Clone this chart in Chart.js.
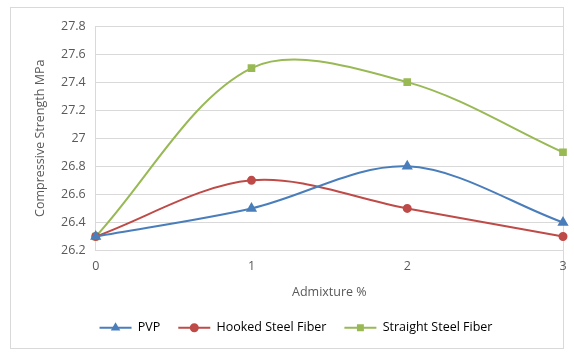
<!DOCTYPE html>
<html>
<head>
<meta charset="utf-8">
<script src="https://cdn.jsdelivr.net/npm/chart.js@4.4.1/dist/chart.umd.min.js"></script>
<style>
  html, body { margin: 0; padding: 0; background: #fff; }
  #wrap { position: relative; width: 574px; height: 353px; }
  #frame { position: absolute; left: 10px; top: 7px; width: 554px; height: 342px; border: 1px solid #d9d9d9; box-sizing: border-box; }
  canvas { position: absolute; left: 0; top: 0; }
</style>
</head>
<body>
<div id="wrap">
  <div id="frame"></div>
  <canvas id="myChart" width="574" height="353"></canvas>
</div>
<script>
var admixture = ['0', '1', '2', '3'];
var pvp = [26.3, 26.5, 26.8, 26.4];
var hookedSteel = [26.3, 26.7, 26.5, 26.3];
var straightSteel = [26.3, 27.5, 27.4, 26.9];

var textColor = '#595959';
var gridColor = '#d9d9d9';
Chart.defaults.font.family = "'Open Sans', 'Liberation Sans', sans-serif";
Chart.defaults.font.size = 12.5;
Chart.defaults.color = textColor;

const ctx = document.getElementById('myChart');

var myChart = new Chart(ctx, {
  type: 'line',
  data: {
    labels: admixture,
    datasets: [
      {
        label: 'PVP',
        data: pvp,
        borderColor: '#4a7ebb',
        backgroundColor: '#4a7ebb',
        pointStyle: 'triangle',
        pointRadius: 4.5,
        borderWidth: 2,
        tension: 0.33
      },
      {
        label: 'Hooked Steel Fiber',
        data: hookedSteel,
        borderColor: '#be4b48',
        backgroundColor: '#be4b48',
        pointStyle: 'circle',
        pointRadius: 3.5,
        borderWidth: 2,
        tension: 0.33
      },
      {
        label: 'Straight Steel Fiber',
        data: straightSteel,
        borderColor: '#98b954',
        backgroundColor: '#98b954',
        pointStyle: 'rect',
        pointRadius: 4,
        borderWidth: 2,
        tension: 0.33
      }
    ]
  },
  options: {
    responsive: false,
    animation: false,
    layout: { padding: { left: 29, right: 11, top: 26, bottom: 9 } },
    plugins: {
      legend: {
        position: 'bottom',
        labels: {
          boxWidth: 32,
          boxHeight: 0,
          padding: 18,
          color: textColor,
          generateLabels: function(chart) {
            return chart.data.datasets.map(function(ds, i) {
              return {
                text: ds.label,
                fillStyle: ds.backgroundColor,
                strokeStyle: ds.borderColor,
                lineWidth: 2,
                datasetIndex: i
              };
            });
          }
        }
      },
      tooltip: { enabled: false }
    },
    scales: {
      x: {
        offset: false,
        grid: { display: false, drawTicks: false },
        border: { color: gridColor },
        ticks: { padding: 8, color: textColor },
        title: { display: true, text: 'Admixture %', color: textColor, padding: { top: 3 } },
        afterFit: function(scale) { scale.paddingRight = 0; }
      },
      y: {
        min: 26.2,
        max: 27.8,
        ticks: {
          stepSize: 0.2,
          padding: 10,
          color: textColor,
          callback: function(v) { return Math.round(v * 10) / 10; }
        },
        grid: { color: gridColor, drawTicks: false },
        border: { color: gridColor },
        title: { display: true, text: 'Compressive Strength MPa', color: textColor, padding: { bottom: 3 } }
      }
    }
  },
  plugins: [{
    id: 'legendMarkers',
    afterDraw: function(chart) {
      var legend = chart.legend;
      var c = chart.ctx;
      legend.legendHitBoxes.forEach(function(box, i) {
        var ds = chart.data.datasets[i];
        var cx = box.left + 16;
        var cy = box.top + box.height / 2;
        c.save();
        c.fillStyle = '#fff';
        c.fillRect(box.left - 1, cy - 6, 34, 12);
        c.strokeStyle = ds.borderColor;
        c.lineWidth = 2;
        c.beginPath();
        c.moveTo(box.left, cy);
        c.lineTo(box.left + 32, cy);
        c.stroke();
        c.fillStyle = ds.backgroundColor;
        Chart.helpers.drawPoint(c, { pointStyle: ds.pointStyle, radius: 3.5, borderWidth: 1 }, cx, cy);
        c.restore();
      });
    }
  }]
});
</script>
</body>
</html>
